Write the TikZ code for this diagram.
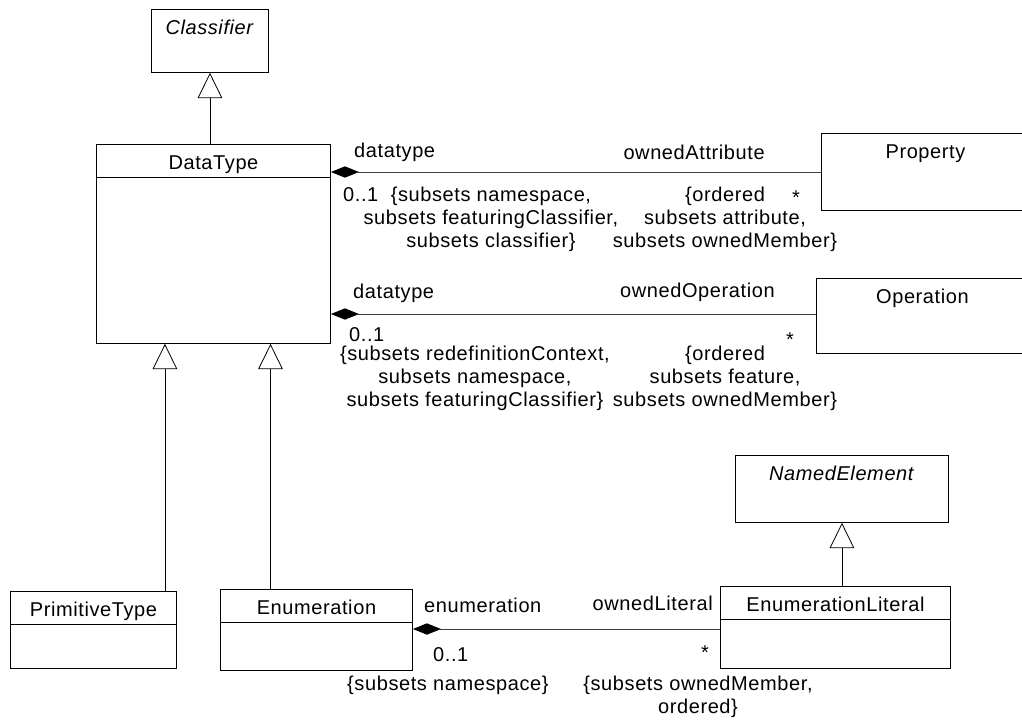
\documentclass[tikz,border=0pt]{standalone}
\usepackage{fontspec}
\setmainfont{Liberation Sans}[LetterSpace=3]
\usepackage{tikz}
\usetikzlibrary{positioning,arrows.meta,calc,shapes.multipart}
\tikzset{
  cls/.style={draw, line width=0.7pt, rectangle split, rectangle split parts=2,
              inner sep=0pt, anchor=north west},
  plain/.style={cls, rectangle split draw splits=false},
  assoc/.style={{Diamond[length=21pt,width=8.5pt,black]}-, draw=black!75, line width=0.7pt},
  gen/.style={-{Triangle[open,length=19pt,width=18.5pt]}, line width=0.6pt},
  lbl/.style={inner sep=0pt, align=center},
}
\newcommand{\cstrut}{\rule[-5.25pt]{0pt}{24pt}}
\newcommand{\Klass}[5][]{% [opts]{name}{x,y}{title}{lower height}
  \node[cls,#1] (#2) at (#3) {\cstrut #4\nodepart{two}\rule{0pt}{#5}};}

\begin{document}
\begin{tikzpicture}[x=0.75pt, y=-0.75pt,
    every node/.append style={font=\fontsize{15}{17.25}\selectfont}]
  \useasboundingbox (0,0) rectangle (1022,719);
  \clip (0,0) rectangle (1022,719);

  % ===== classes ========================================================
  \Klass[plain, minimum width=87.75pt]{cls}{151,9}{\textit{Classifier}}{21.75pt}
  \Klass[minimum width=175.5pt]{dt}{96,144}{DataType}{123.75pt}
  \Klass[plain, minimum width=156pt]{prop}{821,133}{Property}{32.25pt}
  \Klass[plain, minimum width=159pt]{op}{816,278}{Operation}{30.75pt}
  \Klass[minimum width=124.5pt]{pt}{10,591}{PrimitiveType}{32.25pt}
  \Klass[minimum width=144pt]{en}{220,589}{Enumeration}{35.25pt}
  \Klass[minimum width=172.5pt]{el}{720,586}{EnumerationLiteral}{36pt}
  \Klass[plain, minimum width=159.75pt]{ne}{735,455}{\textit{NamedElement}}{24.75pt}

  % ===== generalizations ================================================
  \draw[gen] (dt.north -| cls.south) -- (cls.south);
  \draw[gen] ($(pt.north east)+(-12,0)$) coordinate (g1) -- (g1 |- dt.south);
  \draw[gen] ($(en.north west)+(50.5,0)$) coordinate (g2) -- (g2 |- dt.south);
  \draw[gen] (el.north -| ne.south) -- (ne.south);

  % ===== DataType -- Property ===========================================
  \coordinate (a1) at ($(dt.north east)+(0,28)$);
  \draw[assoc] (a1) -- (a1 -| prop.west) coordinate (b1);
  \node[lbl, anchor=west] (dtA) at ($(a1)+(23,-20)$) {datatype};
  \node[lbl, anchor=east] (ownA) at ($(b1)+(-56,-20)$) {ownedAttribute};
  \node[lbl, anchor=west] (mulA) at ($(a1)+(12,23)$) {0..1};
  \node[lbl] (subA) at ($(a1)+(160,47)$)
    {\{subsets namespace,\\subsets featuringClassifier,\\subsets classifier\}};
  \node[lbl] (ordA) at ($(b1)+(-96,47)$)
    {\{ordered\\subsets attribute,\\subsets ownedMember\}};
  \node[lbl] (starA) at ($(b1)+(-25,26)$) {*};

  % ===== DataType -- Operation ==========================================
  \coordinate (a2) at ($(dt.north east)+(0,170)$);
  \draw[assoc] (a2) -- (a2 -| op.west) coordinate (b2);
  \node[lbl, anchor=west] (dtO) at ($(a2)+(22,-21)$) {datatype};
  \node[lbl, anchor=east] (ownO) at ($(b2)+(-41,-22)$) {ownedOperation};
  \node[lbl, anchor=west] (mulO) at ($(a2)+(18,21)$) {0..1};
  \node[lbl] (subO) at ($(a2)+(144,64)$)
    {\{subsets redefinitionContext,\\subsets namespace,\\subsets featuringClassifier\}};
  \node[lbl] (ordO) at ($(b2)+(-91,64)$)
    {\{ordered\\subsets feature,\\subsets ownedMember\}};
  \node[lbl] (starO) at ($(b2)+(-26,26)$) {*};

  % ===== Enumeration -- EnumerationLiteral ==============================
  \coordinate (a3) at ($(en.north east)+(0,40)$);
  \draw[assoc] (a3) -- (a3 -| el.west) coordinate (b3);
  \node[lbl, anchor=west] (enE) at ($(a3)+(11,-24)$) {enumeration};
  \node[lbl, anchor=east] (ownE) at ($(b3)+(-7,-26)$) {ownedLiteral};
  \node[lbl, anchor=west] (mulE) at ($(a3)+(20,26)$) {0..1};
  \node[lbl] (subE) at ($(a3)+(35,56)$) {\{subsets namespace\}};
  \node[lbl] (ordE) at ($(b3)+(-22,68)$) {\{subsets ownedMember,\\ordered\}};
  \node[lbl] (starE) at ($(b3)+(-15,24)$) {*};

\end{tikzpicture}
\end{document}
